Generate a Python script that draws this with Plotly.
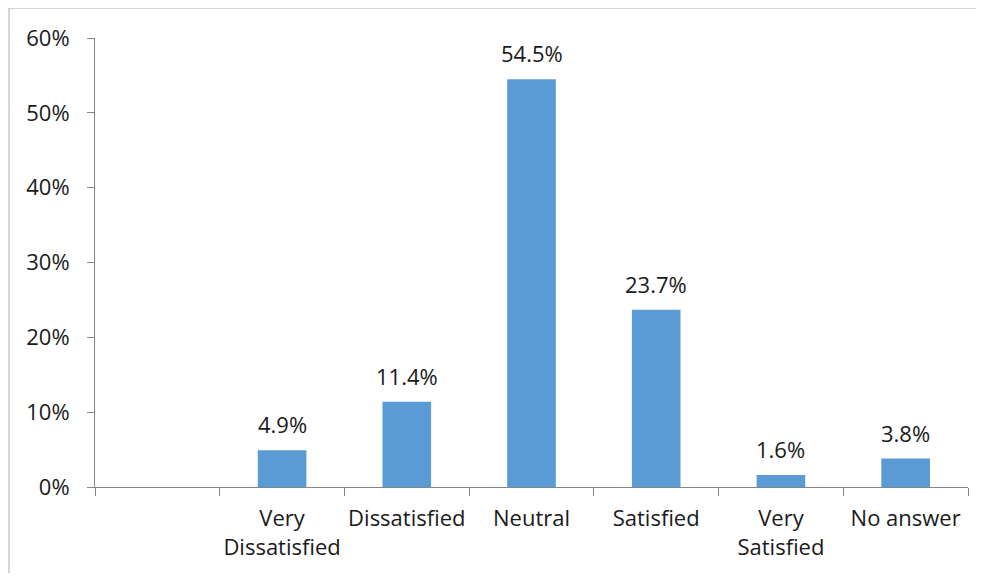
import plotly.graph_objects as go

categories = ['', 'Very<br>Dissatisfied', 'Dissatisfied', 'Neutral', 'Satisfied', 'Very<br>Satisfied', 'No answer']
values = [None, 0.049, 0.114, 0.545, 0.237, 0.016, 0.038]
value_labels = ['', '4.9%', '11.4%', '54.5%', '23.7%', '1.6%', '3.8%']

pos = list(range(len(categories)))
bar_color = '#5B9BD5'
axis_color = '#868686'
font = dict(family='Open Sans', size=22, color='#1a1a1a')

fig = go.Figure(go.Bar(
    x=pos,
    y=values,
    width=0.39,
    marker=dict(color=bar_color, line=dict(width=0)),
))

for x, y, t in zip(pos, values, value_labels):
    if y is None:
        continue
    fig.add_annotation(x=x, y=y, text=t, showarrow=False,
                       yanchor='bottom', yshift=9, font=font)

fig.update_xaxes(
    range=[-0.5, len(categories) - 0.5],
    tickmode='array', tickvals=pos, ticktext=categories,
    ticks='', showline=True, linecolor=axis_color, linewidth=1,
    showgrid=False, zeroline=False, tickfont=font, ticklabelstandoff=12,
    minor=dict(tick0=-0.5, dtick=1, ticks='outside', ticklen=8,
               tickcolor=axis_color, showgrid=False),
)
fig.update_yaxes(
    range=[0, 0.6], dtick=0.1, tickformat='.0%',
    ticks='outside', ticklen=7, tickcolor=axis_color,
    showline=True, linecolor=axis_color, linewidth=1,
    showgrid=False, zeroline=False, tickfont=font, ticklabelstandoff=13,
)

# outer chart border
fig.add_shape(type='rect', xref='paper', yref='paper',
              x0=-0.0985, x1=1.05, y0=-0.4, y1=1.0668,
              line=dict(color='#ADADAD', width=1), layer='below')

fig.update_layout(
    width=968, height=565,
    margin=dict(l=87, r=8, t=30, b=86),
    paper_bgcolor='white', plot_bgcolor='white',
    showlegend=False, font=font,
)

fig.write_html('out.html')
